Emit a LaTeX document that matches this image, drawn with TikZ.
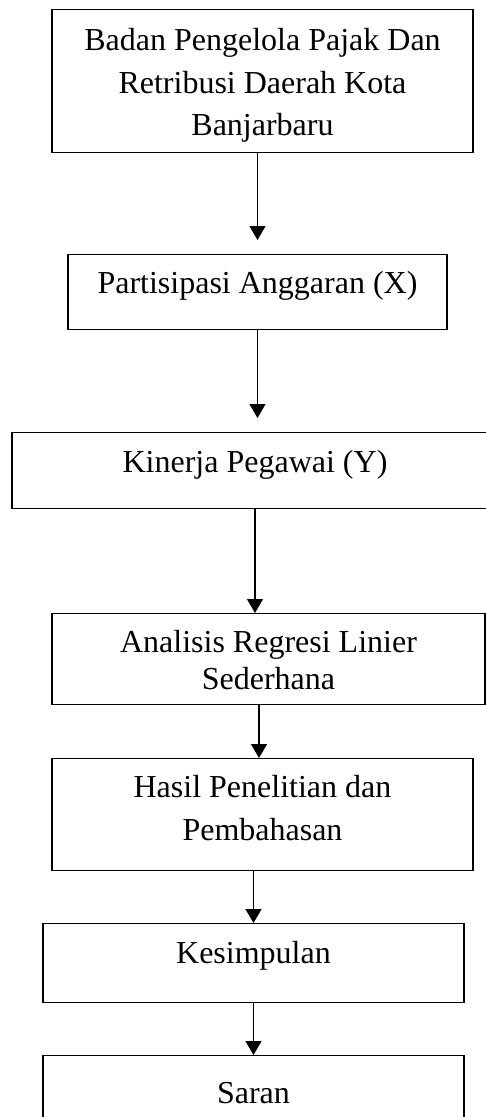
\documentclass[tikz,border=0pt]{standalone}
\usepackage{fontspec}
\setmainfont{Liberation Serif}
\usepackage{tikz}
\usetikzlibrary{arrows.meta, positioning}

\begin{document}
\begin{tikzpicture}[x=1pt, y=-1pt,
		box/.style={draw, line width=1.3pt, anchor=north, align=center, inner xsep=0pt, inner ysep=0pt, font=\fontsize{32}{42.5}\selectfont},
		flow/.style={line width=1.2pt, -{Triangle[width=16pt, length=14pt]}}]
		\useasboundingbox (0,0) rectangle (486,1117);
		\clip (0,0) rectangle (486,1117);
		% boxes
		\node [box, minimum width=421pt, text height=126pt, text depth=17pt] (badan) at (262.5,9) {Badan Pengelola Pajak Dan\\Retribusi Daerah Kota\\Banjarbaru};
		\node [box, minimum width=379pt, text height=39pt, text depth=36pt] (partisipasi) at (257.5,254) {Partisipasi Anggaran (X)};
		\node [box, minimum width=486pt, text height=40pt, text depth=36pt] (kinerja) at (255,432) {Kinerja Pegawai (Y)};
		\node [box, minimum width=433pt, text height=76pt, text depth=15pt, font=\fontsize{32}{37}\selectfont] (analisis) at (268.5,613) {Analisis Regresi Linier\\Sederhana};
		\node [box, minimum width=421pt, text height=82pt, text depth=30pt, font=\fontsize{32}{43}\selectfont] (hasil) at (262.5,758) {Hasil Penelitian dan\\Pembahasan};
		\node [box, minimum width=421pt, text height=40pt, text depth=39pt] (kesimpulan) at (253.5,923) {Kesimpulan};
		\node [box, minimum width=421pt, text height=48pt, text depth=37pt] (saran) at (253.5,1055) {Saran};
		% arrows
		\draw [flow, shorten >=14pt] (badan.south -| partisipasi.north) -- (partisipasi.north);
		\draw [flow, shorten >=14pt] (partisipasi.south) -- (partisipasi.south |- kinerja.north);
		\draw [flow] (kinerja.south) -- (kinerja.south |- analisis.north);
		\draw [flow] ([xshift=-3.5pt]hasil.north |- analisis.south) -- ([xshift=-3.5pt]hasil.north);
		\draw [flow] (hasil.south -| kesimpulan.north) -- (kesimpulan.north);
		\draw [flow] (kesimpulan.south) -- (saran.north);
	\end{tikzpicture}
\end{document}
